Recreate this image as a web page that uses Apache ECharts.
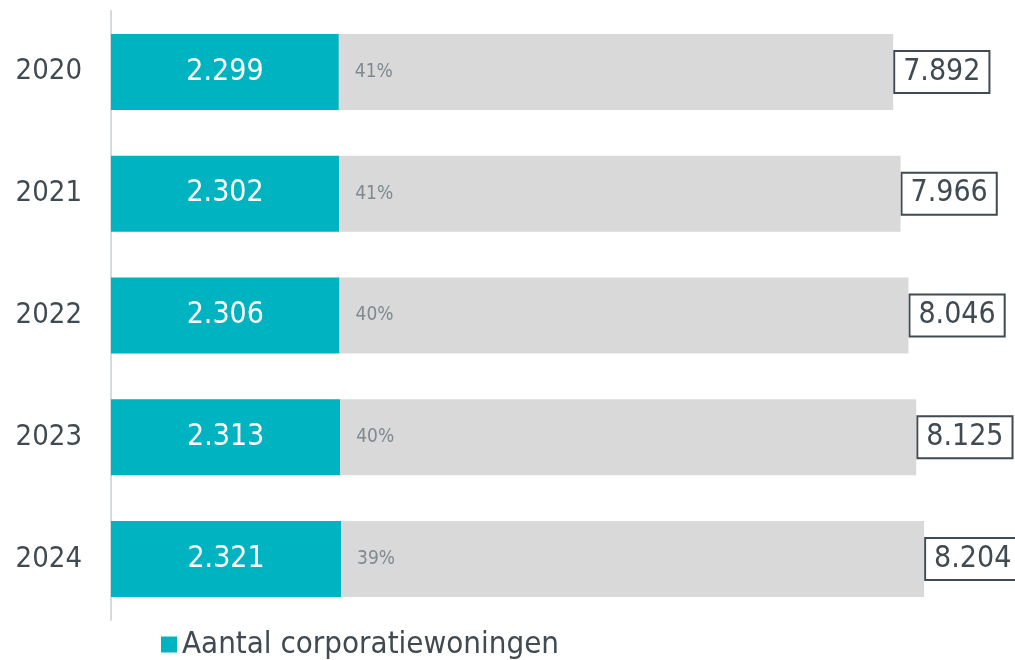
<!DOCTYPE html>
<html>
<head>
<meta charset="utf-8">
<script src="https://cdn.jsdelivr.net/npm/echarts@6/dist/echarts.min.js"></script>
<style>
  html, body { margin: 0; padding: 0; background: #fff; }
  #chart { width: 1015px; height: 660px; }
</style>
</head>
<body>
<div id="chart"></div>
<script>
// jaren en waarden
const years = ['2020', '2021', '2022', '2023', '2024']
const corporatie = [2299, 2302, 2306, 2313, 2321]
const totaal = [7892, 7966, 8046, 8125, 8204]
const percentages = ['41%', '41%', '40%', '40%', '39%']

const overig = totaal.map((t, i) => t - corporatie[i])
const fmt = v => String(v).replace(/\B(?=(\d{3})+(?!\d))/g, '.')

const textColor = '#3f4a52'
const font = 'DejaVu Sans Condensed'

const myChart = echarts.init(document.getElementById('chart'))

myChart.setOption({
  animation: false,
  textStyle: { fontFamily: font },
  grid: { left: 111, right: 12, top: 11, bottom: 40, containLabel: false },
  legend: {
    data: ['Aantal corporatiewoningen'],
    left: 156,
    top: 624,
    icon: 'rect',
    itemWidth: 16,
    itemHeight: 16,
    itemGap: 6,
    textStyle: { fontSize: 31, color: textColor, fontFamily: font }
  },
  xAxis: {
    type: 'value',
    min: 0,
    max: 9000,
    show: false
  },
  yAxis: {
    type: 'category',
    data: years,
    inverse: true,
    axisLine: { show: true, lineStyle: { color: '#d5dade', width: 2 } },
    axisTick: { show: false },
    axisLabel: { fontSize: 29, color: textColor, margin: 29, fontFamily: font }
  },
  series: [
    {
      name: 'Aantal corporatiewoningen',
      type: 'bar',
      stack: 'a',
      barWidth: 76,
      data: corporatie,
      itemStyle: { color: '#00b3c1' },
      label: {
        show: true,
        position: 'inside',
        color: '#fff',
        fontSize: 30,
        fontFamily: font,
        formatter: p => fmt(p.value)
      }
    },
    {
      name: 'Overig',
      type: 'bar',
      stack: 'a',
      barWidth: 76,
      data: overig,
      itemStyle: { color: '#d9d9d9' },
      label: {
        show: true,
        position: 'insideLeft',
        distance: 16,
        color: '#7d8a90',
        fontSize: 19,
        fontFamily: font,
        formatter: p => percentages[p.dataIndex]
      }
    },
    {
      name: 'Totaal',
      type: 'bar',
      barWidth: 76,
      barGap: '-100%',
      data: totaal,
      z: 1,
      itemStyle: { color: 'rgba(0,0,0,0)' },
      label: {
        show: true,
        position: 'right',
        distance: 2,
        color: textColor,
        fontSize: 30,
        fontFamily: font,
        backgroundColor: '#fff',
        borderColor: textColor,
        borderWidth: 2,
        padding: [6, 8, 4, 8],
        formatter: p => fmt(p.value)
      }
    }
  ]
})

window.addEventListener('resize', () => myChart.resize())
</script>
</body>
</html>
